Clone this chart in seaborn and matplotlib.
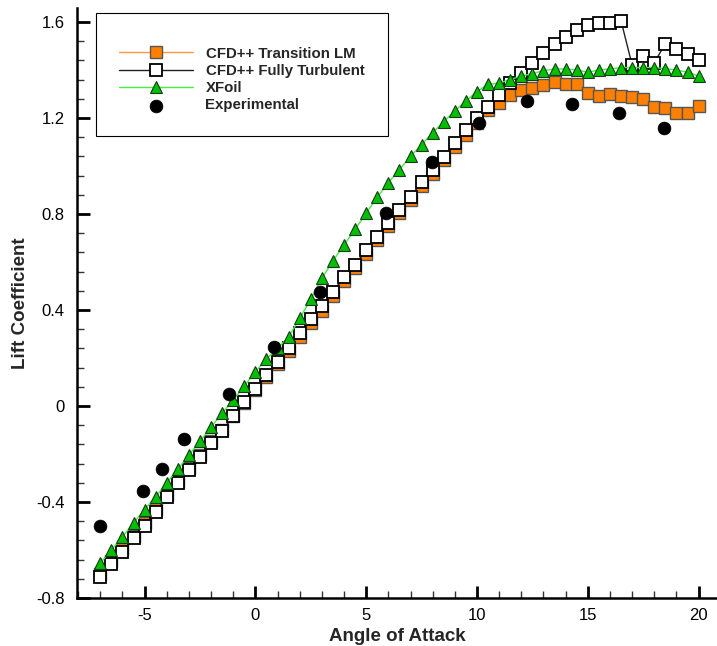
import numpy as np
import pandas as pd
import matplotlib
matplotlib.use("Agg")
import matplotlib.pyplot as plt
import seaborn as sns
from matplotlib.ticker import FixedLocator, MultipleLocator, FixedFormatter

# ---------------- data ----------------
alpha_cfd = [-7.0, -6.5, -6.0, -5.5, -5.0, -4.5, -4.0, -3.5, -3.0, -2.5, -2.0, -1.5, -1.0, -0.5,
             0.0, 0.5, 1.0, 1.5, 2.0, 2.5, 3.0, 3.5, 4.0, 4.5, 5.0, 5.5, 6.0, 6.5, 7.0, 7.5,
             8.0, 8.5, 9.0, 9.5, 10.0, 10.5, 11.0, 11.5, 12.0, 12.5, 13.0, 13.5, 14.0, 14.5,
             15.0, 15.5, 16.0, 16.5, 17.0, 17.5, 18.0, 18.5, 19.0, 19.5, 20.0]

cl_transition = [-0.700, -0.646, -0.596, -0.540, -0.489, -0.430, -0.370, -0.313, -0.258, -0.203,
                 -0.148, -0.100, -0.040, 0.013, 0.066, 0.120, 0.173, 0.229, 0.288, 0.345,
                 0.397, 0.460, 0.520, 0.573, 0.635, 0.690, 0.749, 0.802, 0.857, 0.918,
                 0.968, 1.024, 1.078, 1.130, 1.180, 1.233, 1.261, 1.296, 1.317, 1.324,
                 1.338, 1.349, 1.340, 1.340, 1.303, 1.293, 1.300, 1.293, 1.286, 1.280,
                 1.247, 1.240, 1.220, 1.220, 1.250]

cl_turbulent = [-0.712, -0.658, -0.607, -0.551, -0.500, -0.440, -0.380, -0.322, -0.267, -0.211,
                -0.155, -0.105, -0.043, 0.015, 0.070, 0.129, 0.185, 0.243, 0.303, 0.361,
                0.415, 0.476, 0.536, 0.588, 0.650, 0.705, 0.764, 0.817, 0.872, 0.933,
                0.983, 1.039, 1.095, 1.150, 1.199, 1.247, 1.296, 1.345, 1.386, 1.428,
                1.470, 1.507, 1.539, 1.567, 1.588, 1.595, 1.595, 1.605, 1.420, 1.458,
                1.430, 1.510, 1.487, 1.465, 1.440]

alpha_xfoil = alpha_cfd
cl_xfoil = [-0.655, -0.600, -0.545, -0.487, -0.432, -0.378, -0.320, -0.264, -0.204, -0.147,
            -0.088, -0.030, 0.025, 0.083, 0.143, 0.195, 0.240, 0.288, 0.365, 0.445,
            0.532, 0.605, 0.671, 0.736, 0.803, 0.870, 0.930, 0.985, 1.040, 1.088,
            1.139, 1.185, 1.229, 1.271, 1.310, 1.340, 1.345, 1.360, 1.374, 1.385,
            1.397, 1.404, 1.404, 1.400, 1.390, 1.400, 1.404, 1.410, 1.410, 1.410,
            1.410, 1.405, 1.400, 1.390, 1.375]

alpha_exp = [-7.0, -5.05, -4.2, -3.2, -1.2, 0.82, 2.9, 5.9, 7.98, 10.1, 12.25, 14.27, 16.39, 18.42]
cl_exp = [-0.50, -0.355, -0.264, -0.139, 0.05, 0.245, 0.476, 0.805, 1.018, 1.178, 1.272, 1.258, 1.22, 1.16]

labels = ["CFD++ Transition LM", "CFD++ Fully Turbulent", "XFoil", "Experimental"]
x_ticks = [-5, 0, 5, 10, 15, 20]
x_ticklabels = ["-5", "0", "5", "10", "15", "20"]
y_ticks = [-0.8, -0.4, 0.0, 0.4, 0.8, 1.2, 1.6]
y_ticklabels = ["-0.8", "-0.4", "0", "0.4", "0.8", "1.2", "1.6"]

# ---------------- figure ----------------
sns.set_theme(style="ticks")
plt.rcParams["font.family"] = ["Liberation Sans", "DejaVu Sans"]

W, H = 717, 646
fig = plt.figure(figsize=(W / 100, H / 100), dpi=100)
ax = fig.add_axes([77 / W, 48 / H, 640 / W, 590 / H])

sns.lineplot(x=alpha_cfd, y=cl_transition, ax=ax, sort=False, color="#ff9a3c", lw=1.0,
             marker="s", markersize=8.4, markerfacecolor="#ff8000",
             markeredgecolor="#555555", markeredgewidth=1.0, label=labels[0], zorder=2)
sns.lineplot(x=alpha_cfd, y=cl_turbulent, ax=ax, sort=False, color="#222222", lw=1.0,
             marker="s", markersize=8.0, markerfacecolor="white",
             markeredgecolor="black", markeredgewidth=1.3, label=labels[1], zorder=3)
sns.lineplot(x=alpha_xfoil, y=cl_xfoil, ax=ax, sort=False, color="#44ee44", lw=1.0,
             marker="^", markersize=9, markerfacecolor="#00c000",
             markeredgecolor="#1a3a1a", markeredgewidth=0.8, label=labels[2], zorder=4)
sns.scatterplot(x=alpha_exp, y=cl_exp, ax=ax, color="black", s=85, marker="o",
                edgecolor="black", linewidth=0.5, label=labels[3], zorder=5)

ax.set_xlim(-8.05, 20.83)
ax.set_ylim(-0.8, 1.658)

ax.xaxis.set_major_locator(FixedLocator(x_ticks))
ax.xaxis.set_major_formatter(FixedFormatter(x_ticklabels))
ax.xaxis.set_minor_locator(MultipleLocator(1))
ax.yaxis.set_major_locator(FixedLocator(y_ticks))
ax.yaxis.set_major_formatter(FixedFormatter(y_ticklabels))
ax.yaxis.set_minor_locator(MultipleLocator(0.08))

for s in ["top", "right"]:
    ax.spines[s].set_visible(False)
for s in ["left", "bottom"]:
    ax.spines[s].set_linewidth(1.8)
    ax.spines[s].set_color("black")

ax.tick_params(which="major", direction="in", length=9, width=2.0, color="black",
               labelsize=12, labelcolor="black")
ax.tick_params(which="minor", direction="in", length=5, width=1.0, color="#333333")
ax.tick_params(axis="x", which="major", pad=7)
ax.tick_params(axis="y", which="major", pad=9)

ax.set_xlabel("Angle of Attack", fontsize=13.5, fontweight="bold", labelpad=4)
ax.set_ylabel("Lift Coefficient", fontsize=13.5, fontweight="bold", labelpad=5)
ax.grid(False)

leg = ax.legend(loc="upper left", bbox_to_anchor=(19 / 640, 1 - 5 / 590),
                prop={"size": 10.8, "weight": "bold"}, frameon=True, fancybox=False,
                edgecolor="black", borderpad=1.55, handlelength=4.9, handletextpad=0.85,
                labelspacing=0.22, borderaxespad=0.0, title=" ", title_fontsize=6)
leg.get_frame().set_linewidth(0.8)
leg.get_frame().set_facecolor("white")
leg.get_frame().set_alpha(1.0)

fig.savefig("out.png", dpi=100)
